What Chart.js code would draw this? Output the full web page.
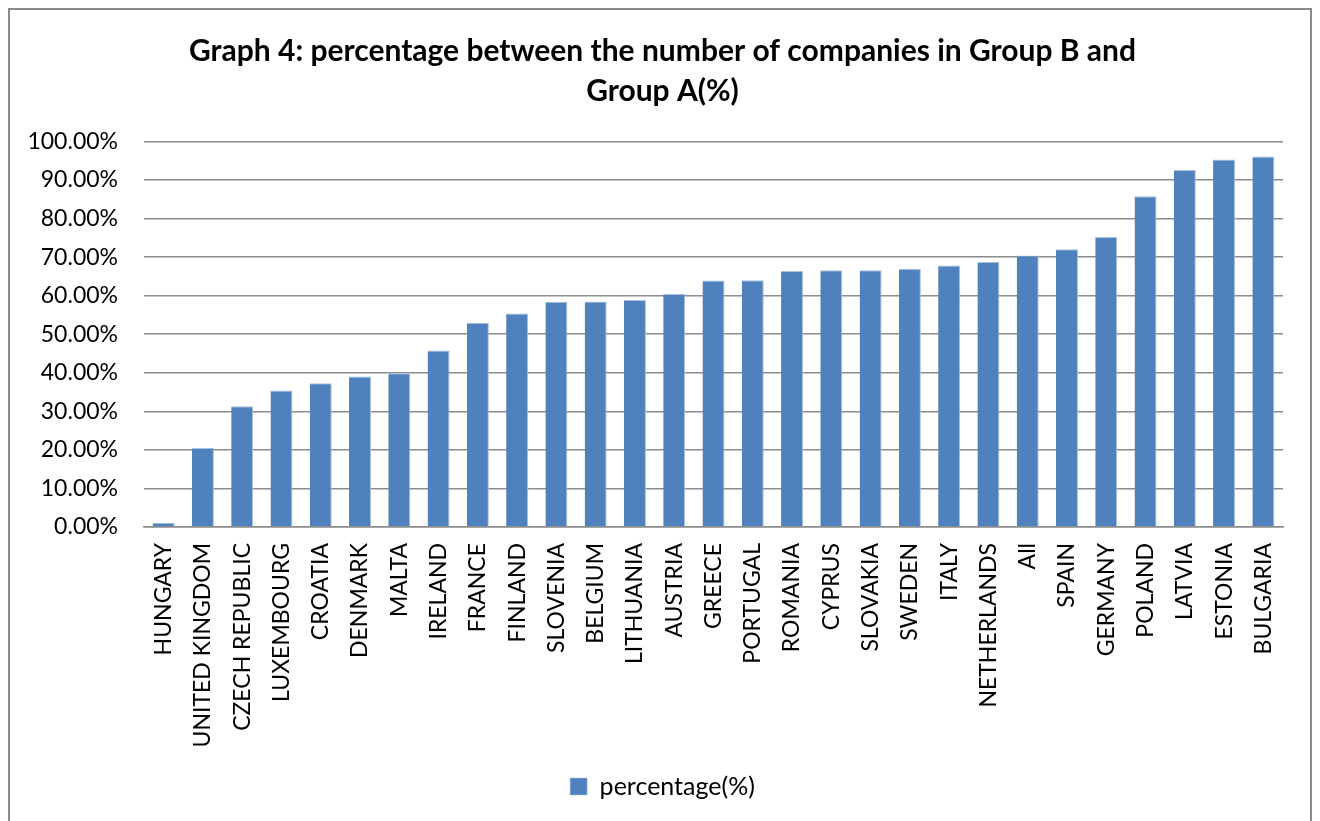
<!DOCTYPE html>
<html>
<head>
<meta charset="utf-8">
<script src="https://cdn.jsdelivr.net/npm/chart.js@4/dist/chart.umd.min.js"></script>
<style>
    html, body { margin: 0; padding: 0; background: #fff; }
    .chartCard { position: relative; width: 1320px; height: 821px; }
    .chartFrame {
        position: absolute; left: 8px; top: 8px; width: 1304px; height: 830px;
        border: 2px solid #8a8a8a; box-sizing: border-box; pointer-events: none;
    }
</style>
</head>
<body>
<div class="chartCard">
    <canvas id="groupChart" width="1320" height="821"></canvas>
    <div class="chartFrame"></div>
</div>
<script>
const countries = [
    "HUNGARY", "UNITED KINGDOM", "CZECH REPUBLIC", "LUXEMBOURG", "CROATIA", "DENMARK",
    "MALTA", "IRELAND", "FRANCE", "FINLAND", "SLOVENIA", "BELGIUM", "LITHUANIA",
    "AUSTRIA", "GREECE", "PORTUGAL", "ROMANIA", "CYPRUS", "SLOVAKIA", "SWEDEN",
    "ITALY", "NETHERLANDS", "All", "SPAIN", "GERMANY", "POLAND", "LATVIA",
    "ESTONIA", "BULGARIA"
];

// share of Group B companies relative to Group A, in percent
const percentages = [
    1.1, 20.5, 31.3, 35.4, 37.3, 39.0,
    39.9, 45.8, 53.0, 55.4, 58.4, 58.5, 58.9,
    60.4, 63.9, 64.0, 66.4, 66.6, 66.6, 67.0,
    67.8, 68.7, 70.4, 72.0, 75.2, 85.8, 92.6,
    95.3, 96.1
];

const seriesLabel = "percentage(%)";
const titleLines = [
    "Graph 4: percentage between the number of companies in Group B and",
    "Group A(%)"
];

const barColor = "#4f81bd";
const gridColor = "#8c8c8c";
const fontFamily = "Lato, 'Open Sans', sans-serif";

// title and legend sit centred on the whole card, not just the plot column
const centreOnCard = {
    id: "centreOnCard",
    afterLayout(chart) {
        const shift = 17;
        [chart.titleBlock, chart.legend].forEach(box => {
            if (box) {
                box.left += shift;
                box.right += shift;
            }
        });
    },
};

const chartCanvas = document.getElementById("groupChart").getContext("2d");

new Chart(chartCanvas, {
    type: "bar",
    data: {
        labels: countries,
        datasets: [
            {
                label: seriesLabel,
                data: percentages,
                backgroundColor: barColor,
                borderColor: "#a9c0de",
                borderWidth: {top: 1, right: 1, left: 0, bottom: 0},
                categoryPercentage: 1,
                barPercentage: 0.56,
            },
        ],
    },
    options: {
        responsive: false,
        animation: false,
        layout: {
            padding: {left: 8, right: 37, top: 0, bottom: 12},
        },
        plugins: {
            title: {
                display: true,
                text: titleLines,
                color: "#000",
                font: {family: fontFamily, size: 30, weight: "bold", lineHeight: 1.34},
                padding: {top: 31, bottom: 30},
            },
            legend: {
                position: "bottom",
                labels: {
                    color: "#000",
                    font: {family: fontFamily, size: 25},
                    boxWidth: 17,
                    boxHeight: 17,
                    padding: 8,
                },
            },
            tooltip: {enabled: false},
        },
        scales: {
            x: {
                grid: {display: false},
                border: {color: gridColor, width: 1.5},
                ticks: {
                    color: "#000",
                    font: {family: fontFamily, size: 23},
                    minRotation: 90,
                    maxRotation: 90,
                    autoSkip: false,
                    padding: 8,
                },
                afterFit: (scale) => {
                    scale.height = 239;
                },
            },
            y: {
                min: 0,
                max: 100,
                grid: {color: gridColor, lineWidth: 1.5, drawTicks: false},
                border: {display: false},
                ticks: {
                    stepSize: 10,
                    color: "#000",
                    font: {family: fontFamily, size: 23},
                    padding: 26,
                    callback: (value) => value.toFixed(2) + "%",
                },
                afterFit: (scale) => {
                    scale.width = 136;
                },
            },
        },
    },
    plugins: [centreOnCard],
});
</script>
</body>
</html>
